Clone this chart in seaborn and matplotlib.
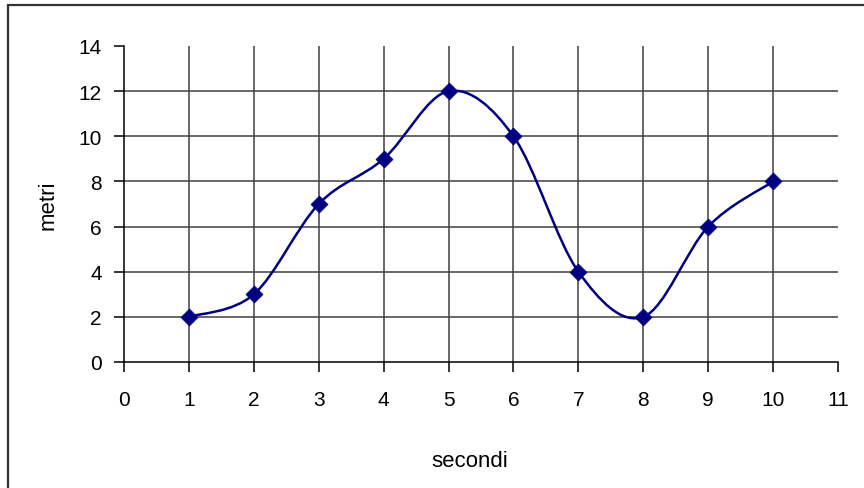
import numpy as np
import pandas as pd
import matplotlib
matplotlib.use("Agg")
import matplotlib.pyplot as plt
import seaborn as sns
from matplotlib.path import Path
from matplotlib.patches import PathPatch, Rectangle

seconds = [1, 2, 3, 4, 5, 6, 7, 8, 9, 10]
meters = [2, 3, 7, 9, 12, 10, 4, 2, 6, 8]
x_ticks = list(range(0, 12))
y_ticks = list(range(0, 16, 2))
x_label = "secondi"
y_label = "metri"

sns.set_style("ticks")
plt.rcParams['font.family'] = ['Liberation Sans', 'DejaVu Sans']
plt.rcParams['text.color'] = 'black'
plt.rcParams['xtick.color'] = 'black'
plt.rcParams['ytick.color'] = 'black'
plt.rcParams['xtick.labelcolor'] = 'black'
plt.rcParams['ytick.labelcolor'] = 'black'

navy = "#000080"
fig = plt.figure(figsize=(8.64, 4.89), dpi=100)
ax = fig.add_axes([124/864, 126/489, 714/864, 316/489])

df = pd.DataFrame({"x": seconds, "y": meters})

# Excel-style smoothed line: cubic Bezier segments (Catmull-Rom control points)
pts = np.column_stack([seconds, meters]).astype(float)
verts = [tuple(pts[0])]
codes = [Path.MOVETO]
n = len(pts)
for i in range(n - 1):
    p0 = pts[i - 1] if i > 0 else pts[i]
    p1 = pts[i]
    p2 = pts[i + 1]
    p3 = pts[i + 2] if i + 2 < n else pts[i + 1]
    c1 = p1 + (p2 - p0) / 6.0
    c2 = p2 - (p3 - p1) / 6.0
    verts += [tuple(c1), tuple(c2), tuple(p2)]
    codes += [Path.CURVE4] * 3
ax.add_patch(PathPatch(Path(verts, codes), facecolor="none", edgecolor=navy,
                       lw=1.8, zorder=3))

sns.scatterplot(data=df, x="x", y="y", marker="D", s=75, color=navy,
                edgecolor=navy, linewidth=0.5, zorder=4, ax=ax)

ax.set_xlim(0, 11)
ax.set_ylim(0, 14)
ax.set_xticks(x_ticks)
ax.set_yticks(y_ticks)
ax.set_xticklabels([str(t) for t in x_ticks], fontsize=15, color="black")
ax.set_yticklabels([str(t) for t in y_ticks], fontsize=15, color="black")

for xv in x_ticks[1:-1]:
    ax.axvline(xv, color="#404040", lw=1.1, zorder=1)
for yv in y_ticks[1:-1]:
    ax.axhline(yv, color="#404040", lw=1.1, zorder=1)

for s in ["top", "right"]:
    ax.spines[s].set_visible(False)
for s in ["left", "bottom"]:
    ax.spines[s].set_color("black")
    ax.spines[s].set_linewidth(1.1)
ax.tick_params(axis="both", direction="out", length=7, width=1.1, color="black")
ax.tick_params(axis="x", pad=13)
ax.tick_params(axis="y", pad=9)

ax.set_xlabel("")
ax.set_ylabel("")
fig.text(470/864, 1 - 462/489, x_label, ha="center", va="center", fontsize=16,
         color="black")
fig.text(48/864, 1 - 205/489, y_label, ha="center", va="center", fontsize=16,
         rotation=90, color="black")

fig.patches.append(Rectangle((8/864, -0.05), 1.0, 1 - 6/489 + 0.05,
                             transform=fig.transFigure, fill=False,
                             edgecolor="#333333", lw=1.6))

fig.savefig("out.png", dpi=100)
